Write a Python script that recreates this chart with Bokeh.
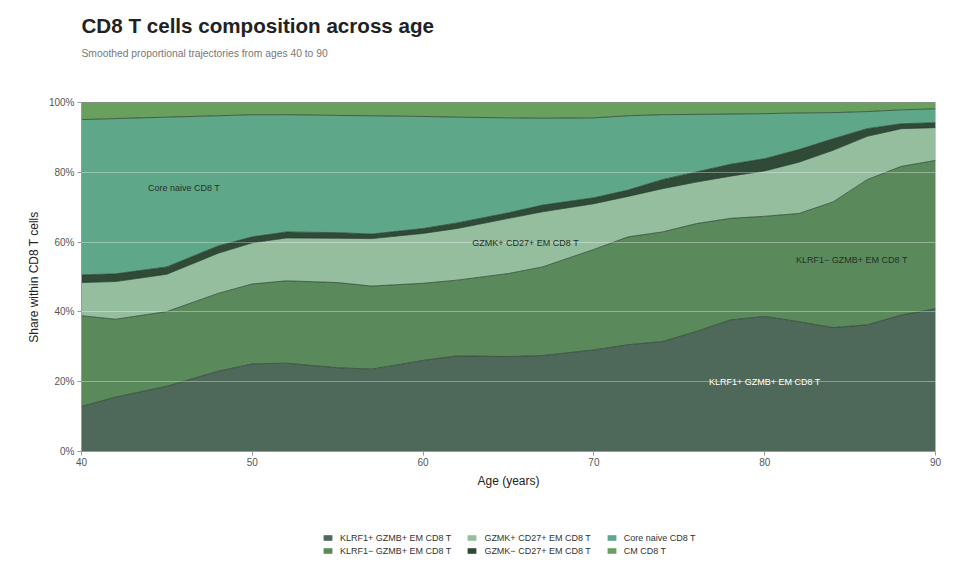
from bokeh.plotting import figure
from bokeh.layouts import column
from bokeh.models import (ColumnDataSource, Range1d, FixedTicker, PrintfTickFormatter,
                          Legend, LegendItem, Title, Label)
from bokeh.transform import stack
from bokeh.embed import file_html
from bokeh.resources import INLINE

# ---- data (shares in %) ----
ages = [40, 42, 45, 48, 50, 52, 55, 57, 60, 62, 65, 67, 70, 72, 74, 76, 78, 80, 82, 84, 86, 88, 90]
klrf1_pos = [12.9, 15.6, 18.7, 23.0, 25.1, 25.3, 24.0, 23.6, 26.1, 27.4, 27.2, 27.5, 29.1, 30.6, 31.5, 34.4, 37.7, 38.7, 37.2, 35.5, 36.3, 39.1, 40.9]
klrf1_neg = [26.0, 22.3, 21.4, 22.3, 22.9, 23.6, 24.4, 23.8, 22.1, 21.7, 23.8, 25.4, 28.8, 30.9, 31.4, 30.9, 29.1, 28.7, 31.0, 36.0, 41.6, 42.6, 42.5]
gzmk_pos = [9.5, 10.8, 10.7, 11.5, 11.8, 12.3, 12.7, 13.6, 14.3, 14.8, 15.8, 15.8, 13.1, 11.6, 12.4, 11.9, 12.1, 13.0, 14.7, 14.8, 12.4, 10.8, 9.4]
gzmk_neg = [2.2, 2.2, 2.1, 2.1, 1.7, 1.7, 1.6, 1.3, 1.4, 1.6, 1.6, 1.9, 1.7, 1.8, 2.6, 2.9, 3.4, 3.5, 3.6, 3.3, 2.2, 1.4, 1.4]
core_naive = [44.5, 44.5, 42.9, 37.3, 35.0, 33.6, 33.6, 33.9, 32.1, 30.3, 27.2, 24.9, 22.9, 21.3, 18.6, 16.5, 14.4, 12.9, 10.5, 7.5, 4.9, 4.0, 4.0]
cm = [4.9, 4.6, 4.2, 3.8, 3.5, 3.5, 3.7, 3.8, 4.0, 4.2, 4.4, 4.5, 4.4, 3.8, 3.5, 3.4, 3.3, 3.2, 3.0, 2.9, 2.6, 2.1, 1.8]

series_names = ["KLRF1+ GZMB+ EM CD8 T", "KLRF1\u2212 GZMB+ EM CD8 T", "GZMK+ CD27+ EM CD8 T",
                "GZMK\u2212 CD27+ EM CD8 T", "Core naive CD8 T", "CM CD8 T"]
series_keys = ["klrf1_pos", "klrf1_neg", "gzmk_pos", "gzmk_neg", "core_naive", "cm"]
colors = ["#4e685a", "#5a8a5c", "#94be9e", "#2f4a36", "#5fa789", "#6aa05d"]

y_ticks = [0, 20, 40, 60, 80, 100]
x_ticks = [40, 50, 60, 70, 80, 90]

# in-plot labels: (text, age, share, color)
area_labels = [("Core naive CD8 T", 46.0, 75.4, "#1f3326"),
               ("GZMK+ CD27+ EM CD8 T", 66.0, 59.6, "#1f3326"),
               ("KLRF1\u2212 GZMB+ EM CD8 T", 85.1, 54.9, "#1f3326"),
               ("KLRF1+ GZMB+ EM CD8 T", 80.0, 20.0, "#ffffff")]

src = ColumnDataSource(dict(age=ages, klrf1_pos=klrf1_pos, klrf1_neg=klrf1_neg, gzmk_pos=gzmk_pos,
                            gzmk_neg=gzmk_neg, core_naive=core_naive, cm=cm))

FONT = "Liberation Sans"

p = figure(width=944, height=490, output_backend="svg", toolbar_location=None,
           x_range=Range1d(40, 90), y_range=Range1d(0, 100),
           min_border_left=81, min_border_right=9, min_border_top=102, min_border_bottom=38)

areas = p.varea_stack(stackers=series_keys, x="age", color=colors, source=src)
for i in range(len(series_keys)):
    p.line(x="age", y=stack(*series_keys[:i + 1]), source=src, line_color="#263a2c",
           line_width=0.8, line_alpha=0.9)

# grid drawn over the areas
p.xgrid.visible = False
p.ygrid.ticker = FixedTicker(ticks=y_ticks)
p.ygrid.grid_line_color = "#ffffff"
p.ygrid.grid_line_alpha = 0.35
p.ygrid.grid_line_width = 1.2
p.ygrid.level = "overlay"

p.outline_line_color = "#d0d0d0"
p.background_fill_color = "#ffffff"

for ax in (p.xaxis[0], p.yaxis[0]):
    ax.axis_line_color = "#9a9a9a"
    ax.major_tick_line_color = "#9a9a9a"
    ax.minor_tick_line_color = None
    ax.major_tick_out = 4
    ax.major_tick_in = 0
    ax.major_label_text_font = FONT
    ax.major_label_text_font_size = "10px"
    ax.major_label_text_color = "#555555"
    ax.axis_label_text_font = FONT
    ax.axis_label_text_font_size = "12px"
    ax.axis_label_text_font_style = "normal"
    ax.axis_label_text_color = "#222222"

p.xaxis.ticker = FixedTicker(ticks=x_ticks)
p.yaxis.ticker = FixedTicker(ticks=y_ticks)
p.yaxis.formatter = PrintfTickFormatter(format="%d%%")
p.xaxis.axis_label = "Age (years)"
p.yaxis.axis_label = "Share within CD8 T cells"
p.xaxis.major_label_standoff = 2
p.yaxis.major_label_standoff = 3
p.xaxis.axis_label_standoff = 5
p.yaxis.axis_label_standoff = 5

for text, xa, ya, c in area_labels:
    p.add_layout(Label(x=xa, y=ya, text=text, text_font=FONT, text_font_size="9px",
                       text_color=c, text_align="center", text_baseline="middle",
                       level="overlay"))

# titles (stacked outward from the frame, with blank spacers)
p.add_layout(Title(text=" ", text_font=FONT, text_font_size="11px", standoff=30), "above")
p.add_layout(Title(text="Smoothed proportional trajectories from ages 40 to 90", text_font=FONT,
                   text_font_size="10.3px", text_font_style="normal", text_color="#777777",
                   standoff=0, offset=0), "above")
p.add_layout(Title(text=" ", text_font=FONT, text_font_size="7px", standoff=0), "above")
p.add_layout(Title(text="CD8 T cells composition across age", text_font=FONT,
                   text_font_size="20.6px", text_font_style="bold", text_color="#222222",
                   standoff=0, offset=0), "above")

# legend strip: a second figure holding two horizontal legend rows
lf = figure(width=944, height=77, output_backend="svg", toolbar_location=None,
            x_range=Range1d(0, 1), y_range=Range1d(0, 1), x_axis_type=None, y_axis_type=None,
            min_border_left=0, min_border_right=0, min_border_top=0, min_border_bottom=0)
lf.grid.visible = False
lf.outline_line_color = None
# legend-only swatch renderers, kept outside the visible range of the strip
swatches = [lf.varea(x=[5, 6], y1=[5, 5], y2=[6, 6], fill_color=c) for c in colors]

rows = [[0, 2, 4], [1, 3, 5]]
row_y = [23, 10]
for row, yy in zip(rows, row_y):
    items = [LegendItem(label=series_names[i], renderers=[swatches[i]]) for i in row]
    lg = Legend(items=items, orientation="horizontal", location=(241, yy),
                label_text_font=FONT, label_text_font_size="9px", label_text_color="#333333",
                glyph_width=11, glyph_height=7, label_standoff=7, label_height=13,
                spacing=15, padding=0, margin=0,
                border_line_color=None, background_fill_alpha=0)
    lf.add_layout(lg)

open("out.html", "w").write(file_html(column(p, lf, spacing=0), INLINE))
